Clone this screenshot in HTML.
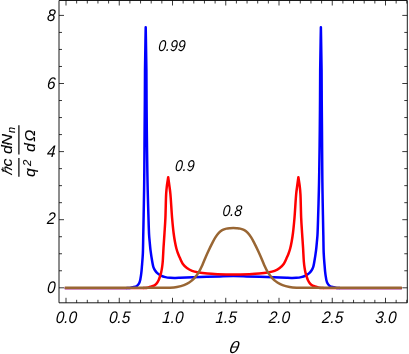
<!DOCTYPE html>
<html><head><meta charset="utf-8"><title>plot</title>
<style>html,body{margin:0;padding:0;background:#fff;}svg{display:block;will-change:transform;}</style></head>
<body>
<svg width="409" height="354" viewBox="0 0 409 354">
<rect width="409" height="354" fill="#fff"/>
<g transform="scale(1.0,1)">
<g fill="none" stroke-width="2.5" stroke-linejoin="round">
<path stroke="#0000ff" stroke-width="2.0" d="M64.75,288.15H127.00M339.58,288.15H401.83"/>
<path stroke="#ff0000" stroke-width="2.0" d="M64.75,288.15H143.50M323.08,288.15H401.83"/>
<path stroke="#0000ff" d="M126.50,288.00C127.17,287.98 127.81,288.00 128.50,287.95C129.24,287.90 130.07,287.82 130.80,287.70C131.47,287.59 131.95,287.46 132.70,287.25C133.83,286.93 135.76,286.70 136.90,285.90C138.02,285.11 138.83,283.99 139.50,282.50C140.46,280.37 140.78,276.77 141.20,273.90C141.61,271.07 141.75,268.47 142.00,265.40C142.30,261.79 142.65,257.98 142.85,253.60C143.11,248.11 143.12,241.31 143.25,235.00C143.39,228.45 143.52,222.04 143.65,215.00C143.80,207.13 143.99,197.65 144.10,190.00C144.19,183.51 144.23,179.25 144.30,172.00C144.40,160.92 144.50,142.83 144.60,130.00C144.68,119.16 144.78,110.00 144.85,100.00C144.92,90.00 144.88,80.89 145.00,70.00C145.14,57.00 145.47,41.47 145.70,27.20C145.93,41.47 146.26,57.00 146.40,70.00C146.52,80.89 146.48,90.00 146.55,100.00C146.62,110.00 146.68,119.16 146.80,130.00C146.94,142.83 147.17,160.92 147.35,172.00C147.47,179.25 147.55,183.51 147.70,190.00C147.88,197.65 148.15,207.13 148.40,215.00C148.62,222.04 148.80,230.05 149.10,235.00C149.28,237.93 149.48,239.58 149.70,242.00C149.94,244.63 150.13,247.22 150.50,250.20C150.95,253.78 151.73,258.89 152.30,262.00C152.68,264.06 152.87,265.60 153.40,267.10C153.85,268.38 154.40,269.45 155.10,270.50C155.80,271.55 156.63,272.56 157.60,273.40C158.59,274.27 159.76,274.99 161.00,275.60C162.31,276.24 163.79,276.74 165.30,277.10C166.89,277.48 168.62,277.67 170.30,277.80C171.99,277.93 173.74,277.90 175.40,277.90C176.97,277.90 177.93,277.86 180.00,277.80C184.32,277.68 193.33,277.33 200.00,277.10C206.67,276.87 214.01,276.57 220.00,276.40C224.88,276.26 228.86,276.10 233.29,276.10C237.72,276.10 241.70,276.26 246.58,276.40C252.57,276.57 259.91,276.87 266.58,277.10C273.25,277.33 282.26,277.68 286.58,277.80C288.65,277.86 289.61,277.90 291.18,277.90C292.84,277.90 294.59,277.93 296.28,277.80C297.96,277.67 299.69,277.48 301.28,277.10C302.79,276.74 304.27,276.24 305.58,275.60C306.82,274.99 307.99,274.27 308.98,273.40C309.95,272.56 310.78,271.55 311.48,270.50C312.18,269.45 312.73,268.38 313.18,267.10C313.71,265.60 313.90,264.06 314.28,262.00C314.85,258.89 315.63,253.78 316.08,250.20C316.45,247.22 316.64,244.63 316.88,242.00C317.10,239.58 317.30,237.93 317.48,235.00C317.78,230.05 317.96,222.04 318.18,215.00C318.43,207.13 318.70,197.65 318.88,190.00C319.03,183.51 319.11,179.25 319.23,172.00C319.41,160.92 319.64,142.83 319.78,130.00C319.90,119.16 319.96,110.00 320.03,100.00C320.10,90.00 320.06,80.89 320.18,70.00C320.32,57.00 320.65,41.47 320.88,27.20C321.11,41.47 321.44,57.00 321.58,70.00C321.70,80.89 321.66,90.00 321.73,100.00C321.80,110.00 321.90,119.16 321.98,130.00C322.08,142.83 322.18,160.92 322.28,172.00C322.35,179.25 322.39,183.51 322.48,190.00C322.59,197.65 322.78,207.13 322.93,215.00C323.06,222.04 323.19,228.45 323.33,235.00C323.46,241.31 323.47,248.11 323.73,253.60C323.93,257.98 324.28,261.79 324.58,265.40C324.83,268.47 324.97,271.07 325.38,273.90C325.80,276.77 326.12,280.37 327.08,282.50C327.75,283.99 328.56,285.11 329.68,285.90C330.82,286.70 332.75,286.93 333.88,287.25C334.63,287.46 335.11,287.59 335.78,287.70C336.51,287.82 337.34,287.90 338.08,287.95C338.77,288.00 339.41,287.98 340.08,288.00"/>
<path stroke="#ff0000" d="M143.00,288.00C143.73,287.98 144.46,288.00 145.20,287.95C145.96,287.90 146.69,287.86 147.50,287.70C148.44,287.51 149.46,287.13 150.50,286.80C151.63,286.44 152.97,286.16 154.00,285.60C154.95,285.08 155.76,284.43 156.50,283.60C157.32,282.67 158.02,281.40 158.60,280.20C159.19,279.00 159.57,277.71 160.00,276.40C160.44,275.04 160.87,273.62 161.20,272.20C161.53,270.78 161.76,269.45 162.00,267.90C162.28,266.09 162.49,264.39 162.70,262.00C163.02,258.33 163.21,252.75 163.50,248.00C163.80,243.09 164.18,238.00 164.50,233.00C164.82,228.00 165.15,223.59 165.40,218.00C165.72,210.94 165.81,199.71 166.15,194.00C166.34,190.82 166.49,189.21 166.80,186.60C167.15,183.65 167.73,180.33 168.20,177.20C168.63,180.33 169.12,183.65 169.50,186.60C169.84,189.21 170.09,190.82 170.40,194.00C170.95,199.71 171.50,210.94 172.10,218.00C172.58,223.59 173.06,228.71 173.60,233.00C174.01,236.24 174.41,238.81 174.90,241.50C175.35,243.95 175.83,246.38 176.40,248.50C176.88,250.32 177.43,251.96 178.00,253.50C178.50,254.87 178.96,255.88 179.60,257.30C180.44,259.17 181.41,261.87 182.70,263.70C183.88,265.39 185.33,266.81 186.90,268.00C188.44,269.17 190.13,270.07 192.00,270.80C194.06,271.61 196.39,272.04 198.80,272.50C201.46,273.00 204.33,273.32 207.30,273.60C210.54,273.90 213.73,274.04 217.50,274.20C222.19,274.40 228.03,274.60 233.29,274.60C238.55,274.60 244.39,274.40 249.08,274.20C252.85,274.04 256.04,273.90 259.28,273.60C262.25,273.32 265.12,273.00 267.78,272.50C270.19,272.04 272.52,271.61 274.58,270.80C276.45,270.07 278.14,269.17 279.68,268.00C281.24,266.81 282.70,265.39 283.88,263.70C285.17,261.87 286.14,259.17 286.98,257.30C287.62,255.88 288.07,254.87 288.58,253.50C289.15,251.96 289.69,250.32 290.18,248.50C290.75,246.38 291.23,243.95 291.68,241.50C292.17,238.81 292.57,236.24 292.98,233.00C293.52,228.71 294.00,223.59 294.48,218.00C295.08,210.94 295.63,199.71 296.18,194.00C296.49,190.82 296.74,189.21 297.08,186.60C297.46,183.65 297.95,180.33 298.38,177.20C298.85,180.33 299.43,183.65 299.78,186.60C300.09,189.21 300.24,190.82 300.43,194.00C300.77,199.71 300.86,210.94 301.18,218.00C301.43,223.59 301.76,228.00 302.08,233.00C302.40,238.00 302.78,243.09 303.08,248.00C303.37,252.75 303.56,258.33 303.88,262.00C304.09,264.39 304.30,266.09 304.58,267.90C304.82,269.45 305.05,270.78 305.38,272.20C305.71,273.62 306.14,275.04 306.58,276.40C307.01,277.71 307.39,279.00 307.98,280.20C308.56,281.40 309.26,282.67 310.08,283.60C310.82,284.43 311.62,285.08 312.58,285.60C313.61,286.16 314.95,286.44 316.08,286.80C317.11,287.13 318.14,287.51 319.08,287.70C319.89,287.86 320.62,287.90 321.38,287.95C322.12,288.00 322.85,287.98 323.58,288.00"/>
<path stroke="#996633" stroke-linecap="square" d="M66.00,287.85C84.00,287.85 103.35,287.85 120.00,287.85C134.33,287.85 151.11,287.94 160.00,287.85C164.44,287.81 166.97,287.84 170.00,287.65C172.54,287.49 174.68,287.32 177.00,286.90C179.35,286.47 181.88,285.89 184.00,285.10C185.90,284.39 187.53,283.60 189.20,282.50C191.01,281.31 192.82,279.78 194.40,278.10C196.04,276.36 197.51,274.30 198.80,272.20C200.11,270.07 201.13,267.73 202.20,265.40C203.30,263.00 204.26,260.41 205.30,258.00C206.30,255.68 207.22,253.52 208.30,251.20C209.45,248.73 210.76,245.99 212.00,243.60C213.13,241.41 214.20,239.27 215.40,237.40C216.48,235.72 217.58,234.12 218.80,232.85C219.87,231.74 220.94,230.80 222.20,230.10C223.47,229.40 225.04,228.97 226.40,228.65C227.63,228.36 228.83,228.30 230.00,228.20C231.12,228.10 232.19,228.05 233.29,228.05C234.39,228.05 235.46,228.10 236.58,228.20C237.75,228.30 238.95,228.36 240.18,228.65C241.54,228.97 243.11,229.40 244.38,230.10C245.64,230.80 246.71,231.74 247.78,232.85C249.00,234.12 250.10,235.72 251.18,237.40C252.38,239.27 253.45,241.41 254.58,243.60C255.82,245.99 257.13,248.73 258.28,251.20C259.36,253.52 260.28,255.68 261.28,258.00C262.32,260.41 263.28,263.00 264.38,265.40C265.45,267.73 266.47,270.07 267.78,272.20C269.07,274.30 270.54,276.36 272.18,278.10C273.75,279.78 275.57,281.31 277.38,282.50C279.05,283.60 280.68,284.39 282.58,285.10C284.70,285.89 287.23,286.47 289.58,286.90C291.90,287.32 294.03,287.49 296.58,287.65C299.61,287.84 302.13,287.81 306.58,287.85C315.47,287.94 332.25,287.85 346.58,287.85C363.23,287.85 382.58,287.85 400.58,287.85"/>
</g>
<path fill="none" stroke="#000" stroke-width="0.9" d="M59.00,0.5H407.30V302.8H59.00Z"/>
<path fill="none" stroke="#000" stroke-width="0.78" d="M66.00,302.8v-5.0M66.00,0.5v5.0M76.65,302.8v-3.0M76.65,0.5v3.0M87.30,302.8v-3.0M87.30,0.5v3.0M97.95,302.8v-3.0M97.95,0.5v3.0M108.60,302.8v-3.0M108.60,0.5v3.0M119.25,302.8v-5.0M119.25,0.5v5.0M129.90,302.8v-3.0M129.90,0.5v3.0M140.55,302.8v-3.0M140.55,0.5v3.0M151.20,302.8v-3.0M151.20,0.5v3.0M161.85,302.8v-3.0M161.85,0.5v3.0M172.50,302.8v-5.0M172.50,0.5v5.0M183.15,302.8v-3.0M183.15,0.5v3.0M193.80,302.8v-3.0M193.80,0.5v3.0M204.45,302.8v-3.0M204.45,0.5v3.0M215.10,302.8v-3.0M215.10,0.5v3.0M225.75,302.8v-5.0M225.75,0.5v5.0M236.40,302.8v-3.0M236.40,0.5v3.0M247.05,302.8v-3.0M247.05,0.5v3.0M257.70,302.8v-3.0M257.70,0.5v3.0M268.35,302.8v-3.0M268.35,0.5v3.0M279.00,302.8v-5.0M279.00,0.5v5.0M289.65,302.8v-3.0M289.65,0.5v3.0M300.30,302.8v-3.0M300.30,0.5v3.0M310.95,302.8v-3.0M310.95,0.5v3.0M321.60,302.8v-3.0M321.60,0.5v3.0M332.25,302.8v-5.0M332.25,0.5v5.0M342.90,302.8v-3.0M342.90,0.5v3.0M353.55,302.8v-3.0M353.55,0.5v3.0M364.20,302.8v-3.0M364.20,0.5v3.0M374.85,302.8v-3.0M374.85,0.5v3.0M385.50,302.8v-5.0M385.50,0.5v5.0M396.15,302.8v-3.0M396.15,0.5v3.0M406.80,302.8v-3.0M406.80,0.5v3.0M59.00,287.80h5.0M407.30,287.80h-5.0M59.00,270.78h3.0M407.30,270.78h-3.0M59.00,253.75h3.0M407.30,253.75h-3.0M59.00,236.73h3.0M407.30,236.73h-3.0M59.00,219.70h5.0M407.30,219.70h-5.0M59.00,202.68h3.0M407.30,202.68h-3.0M59.00,185.65h3.0M407.30,185.65h-3.0M59.00,168.63h3.0M407.30,168.63h-3.0M59.00,151.60h5.0M407.30,151.60h-5.0M59.00,134.58h3.0M407.30,134.58h-3.0M59.00,117.55h3.0M407.30,117.55h-3.0M59.00,100.53h3.0M407.30,100.53h-3.0M59.00,83.50h5.0M407.30,83.50h-5.0M59.00,66.48h3.0M407.30,66.48h-3.0M59.00,49.45h3.0M407.30,49.45h-3.0M59.00,32.43h3.0M407.30,32.43h-3.0M59.00,15.40h5.0M407.30,15.40h-5.0"/>
<g font-family="Liberation Sans, sans-serif" font-style="italic" font-size="16.8" fill="#000">
<text transform="translate(66.20,322.90) skewX(-4) scale(0.91,1)" text-anchor="middle">0.0</text>
<text transform="translate(119.45,322.90) skewX(-4) scale(0.91,1)" text-anchor="middle">0.5</text>
<text transform="translate(172.70,322.90) skewX(-4) scale(0.91,1)" text-anchor="middle">1.0</text>
<text transform="translate(225.95,322.90) skewX(-4) scale(0.91,1)" text-anchor="middle">1.5</text>
<text transform="translate(279.20,322.90) skewX(-4) scale(0.91,1)" text-anchor="middle">2.0</text>
<text transform="translate(332.45,322.90) skewX(-4) scale(0.91,1)" text-anchor="middle">2.5</text>
<text transform="translate(385.70,322.90) skewX(-4) scale(0.91,1)" text-anchor="middle">3.0</text>
<text transform="translate(55.15,292.50) skewX(-4) scale(0.91,1)" text-anchor="end">0</text>
<text transform="translate(55.15,224.40) skewX(-4) scale(0.91,1)" text-anchor="end">2</text>
<text transform="translate(55.15,156.50) skewX(-4) scale(0.91,1)" text-anchor="end">4</text>
<text transform="translate(55.15,89.15) skewX(-4) scale(0.91,1)" text-anchor="end">6</text>
<text transform="translate(55.15,21.30) skewX(-4) scale(0.91,1)" text-anchor="end">8</text>
<text transform="translate(158.05,50.90) skewX(-4) scale(0.9,1)" font-size="15.6">0.99</text>
<text transform="translate(174.70,170.50) skewX(-4) scale(0.9,1)" font-size="15.6">0.9</text>
<text transform="translate(222.30,216.00) skewX(-4) scale(0.9,1)" font-size="15.6">0.8</text>
<text transform="translate(233.4,352.5) skewX(-10) scale(1.06,1)" font-size="16.7" text-anchor="middle">θ</text>
</g>
<g font-family="Liberation Sans, sans-serif" font-style="italic" font-size="15.9" fill="#000" stroke="#000" stroke-width="0.12">
<text transform="translate(12.1,175.6) rotate(-90) skewX(-17) scale(0.9,0.92)">ħ</text>
<text transform="translate(12.1,166.6) rotate(-90) scale(1,0.92)">c</text>
<text transform="translate(12.4,153.9) rotate(-90) scale(1,0.92)">d<tspan dx="-0.5">N</tspan><tspan font-size="11" dy="2.6" dx="1.1">n</tspan></text>
<text transform="translate(35.0,176.9) rotate(-90) scale(1,0.92)">q<tspan font-size="11.3" dy="-4.5" dx="2.0">2</tspan></text>
<text transform="translate(35.4,151.9) rotate(-90) scale(1,0.92)">d<tspan dx="1.2">Ω</tspan></text>
</g>
<path stroke="#000" stroke-width="1.2" fill="none" d="M18.9,125.2V154.6M18.9,157.9V176.7"/>
</g>
</svg>
</body></html>
